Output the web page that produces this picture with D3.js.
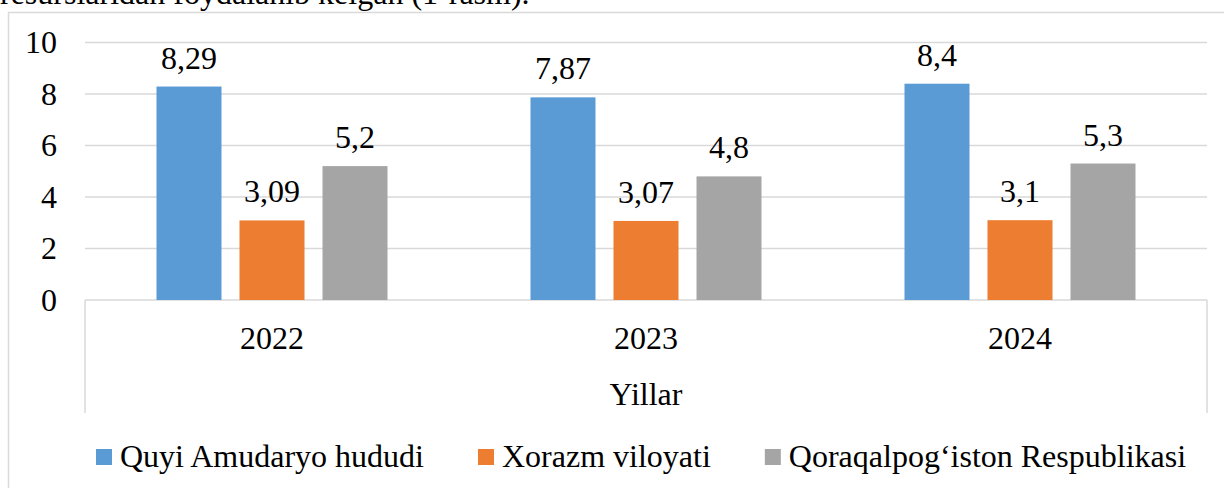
<!DOCTYPE html>
<html>
<head>
<meta charset="utf-8">
<script src="https://cdn.jsdelivr.net/npm/d3@7"></script>
<style>
  body { margin: 0; background: #fff; }
</style>
</head>
<body>
<div id="chart"></div>
<script>
const width = 1224;
const height = 488;

// data
const years = ['2022', '2023', '2024'];
const seriesNames = ['Quyi Amudaryo hududi', 'Xorazm viloyati', 'Qoraqalpog\u2018iston Respublikasi'];
const amudaryo = [8.29, 7.87, 8.4];
const xorazm = [3.09, 3.07, 3.1];
const qoraqalpog = [5.2, 4.8, 5.3];
const yTicks = [0, 2, 4, 6, 8, 10];
const colors = ['#5b9bd5', '#ed7d31', '#a5a5a5'];
const seriesValues = [amudaryo, xorazm, qoraqalpog];

const fs = 32;

let svg = d3.select('#chart').append('svg')
  .attr('width', width)
  .attr('height', height)
  .attr('font-family', 'Liberation Serif');

// cut-off paragraph text above the figure
svg.append('text')
  .attr('x', 0)
  .attr('y', 4)
  .attr('font-size', fs)
  .text('resurslaridan foydalanib kelgan (1-rasm).');

// chart frame
svg.append('rect')
  .attr('x', 8.5).attr('y', 12.5)
  .attr('width', 1240).attr('height', 500)
  .attr('fill', 'none')
  .attr('stroke', '#d9d9d9')
  .attr('stroke-width', 1.5);

const plotL = 85, plotR = 1207, plotT = 42.5, plotB = 300;

let x0 = d3.scaleBand().domain(years).range([plotL, plotR]);
let x1 = d3.scaleBand().domain(d3.range(seriesNames.length))
  .range([71.5, 302.5]).paddingInner(0.217);
let y = d3.scaleLinear().domain([0, 10]).range([plotB, plotT]);

// gridlines
svg.append('g').selectAll('line')
  .data(yTicks)
  .join('line')
  .attr('x1', plotL).attr('x2', plotR)
  .attr('y1', d => y(d)).attr('y2', d => y(d))
  .attr('stroke', '#d9d9d9')
  .attr('stroke-width', 1.5);

// y tick labels
svg.append('g').selectAll('text')
  .data(yTicks)
  .join('text')
  .attr('x', 57)
  .attr('y', d => y(d) + 10.5)
  .attr('text-anchor', 'end')
  .attr('font-size', fs)
  .text(d => d);

// category box below axis
[plotL, plotR].forEach(xx => {
  svg.append('line')
    .attr('x1', xx).attr('x2', xx)
    .attr('y1', plotB).attr('y2', 413)
    .attr('stroke', '#d9d9d9')
    .attr('stroke-width', 1.5);
});

// bars
let groups = svg.append('g').selectAll('g')
  .data(years)
  .join('g')
  .attr('transform', d => 'translate(' + x0(d) + ',0)');

groups.selectAll('rect')
  .data((d, i) => seriesValues.map((s, k) => ({ k: k, v: s[i] })))
  .join('rect')
  .attr('x', d => x1(d.k))
  .attr('y', d => y(d.v))
  .attr('width', x1.bandwidth())
  .attr('height', d => y(0) - y(d.v))
  .attr('fill', d => colors[d.k]);

groups.selectAll('text')
  .data((d, i) => seriesValues.map((s, k) => ({ k: k, v: s[i] })))
  .join('text')
  .attr('x', d => x1(d.k) + x1.bandwidth() / 2)
  .attr('y', d => y(d.v) - 18)
  .attr('text-anchor', 'middle')
  .attr('font-size', fs)
  .text(d => String(d.v).replace('.', ','));

// year labels
svg.append('g').selectAll('text')
  .data(years)
  .join('text')
  .attr('x', d => x0(d) + x0.bandwidth() / 2)
  .attr('y', 349)
  .attr('text-anchor', 'middle')
  .attr('font-size', fs)
  .text(d => d);

// axis title
svg.append('text')
  .attr('x', (plotL + plotR) / 2)
  .attr('y', 405)
  .attr('text-anchor', 'middle')
  .attr('font-size', fs)
  .text('Yillar');

// legend
let legend = svg.append('g').attr('transform', 'translate(96,0)');
let items = legend.selectAll('g')
  .data(seriesNames)
  .join('g');
items.append('rect')
  .attr('x', 0).attr('y', 449)
  .attr('width', 16).attr('height', 16)
  .attr('fill', (d, i) => colors[i]);
items.append('text')
  .attr('x', 24)
  .attr('y', 467)
  .attr('font-size', fs)
  .text(d => d);

let cx = 0;
items.each(function() {
  let w = d3.select(this).select('text').node().getComputedTextLength();
  d3.select(this).attr('transform', 'translate(' + cx + ',0)');
  cx += 24 + w + 54;
});
</script>
</body>
</html>
